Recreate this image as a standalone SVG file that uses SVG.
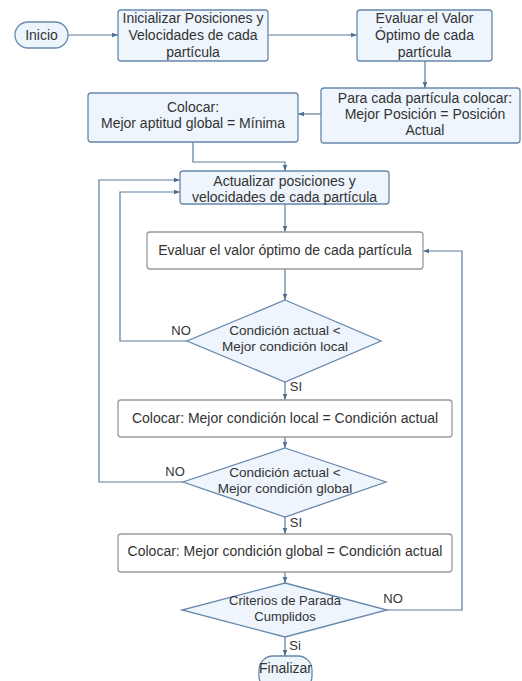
<svg xmlns="http://www.w3.org/2000/svg" width="522" height="681" viewBox="0 0 522 681">
  <defs>
    <marker id="arrow" viewBox="0 0 8 8" refX="8" refY="4" markerWidth="6" markerHeight="6" orient="auto" markerUnits="userSpaceOnUse">
      <path d="M0,1 L8,4 L0,7 Z" fill="#4d6f93"/>
    </marker>
    <style>
      .term { fill: #edf5fc; stroke: #6688ad; stroke-width: 1.3; }
      .proc { fill: #eef5fc; stroke: #6688ad; stroke-width: 1.3; }
      .plain { fill: #ffffff; stroke: #9a9a9a; stroke-width: 1.3; }
      .dec { fill: #eef5fc; stroke: #6688ad; stroke-width: 1.3; }
      .conn { fill: none; stroke: #5d7c9c; stroke-width: 1.2; marker-end: url(#arrow); }
      text { font-family: "Liberation Sans", Arial, sans-serif; font-size: 14px; fill: #333333; text-anchor: middle; }
      .dtext { font-size: 13.5px; }
      .small { font-size: 13px; }
      .lbl { font-size: 13px; }
    </style>
  </defs>

  <!-- connectors -->
  <g id="connectors">
    <path class="conn" d="M68,35 H118"/>
    <path class="conn" d="M268,35 H357"/>
    <path class="conn" d="M425,61 V88"/>
    <path class="conn" d="M321,114 H298"/>
    <path class="conn" d="M193,142 V162 H285 V171"/>
    <path class="conn" d="M285,204 V232"/>
    <path class="conn" d="M285,269 V300"/>
    <path class="conn" d="M187,341 H120 V192 H180"/>
    <path class="conn" d="M285,382 V400"/>
    <path class="conn" d="M285,437 V448"/>
    <path class="conn" d="M183,482 H99 V180 H180"/>
    <path class="conn" d="M285,517 V534"/>
    <path class="conn" d="M285,572 V583"/>
    <path class="conn" d="M387,610 H462 V251 H423"/>
    <path class="conn" d="M285,637 V656"/>
    <text class="lbl" x="181" y="335">NO</text>
    <text class="lbl" x="175" y="476">NO</text>
    <text class="lbl" x="393" y="603">NO</text>
    <text class="lbl" x="296" y="391">SI</text>
    <text class="lbl" x="296" y="527">SI</text>
    <text class="lbl" x="295" y="650">Si</text>
  </g>

  <g id="inicio">
    <rect class="term" x="15" y="22" width="53" height="26" rx="13"/>
    <text x="41.5" y="40">Inicio</text>
  </g>

  <g id="inicializar">
    <rect class="proc" x="118" y="10" width="150" height="51" rx="3"/>
    <text x="193" y="23">Inicializar Posiciones y</text>
    <text x="193" y="40">Velocidades de cada</text>
    <text x="193" y="57">partícula</text>
  </g>

  <g id="evaluar-inicial">
    <rect class="proc" x="357" y="10" width="135" height="51" rx="3"/>
    <text x="424.5" y="23">Evaluar el Valor</text>
    <text x="424.5" y="40">Óptimo de cada</text>
    <text x="424.5" y="57">partícula</text>
  </g>

  <g id="mejor-posicion">
    <rect class="proc" x="321" y="88" width="199" height="55" rx="3"/>
    <text x="425" y="103">Para cada partícula colocar:</text>
    <text x="425" y="119">Mejor Posición = Posición</text>
    <text x="425" y="135">Actual</text>
  </g>

  <g id="aptitud-global">
    <rect class="proc" x="88" y="93" width="210" height="49" rx="3"/>
    <text x="193" y="112">Colocar:</text>
    <text x="193" y="128">Mejor aptitud global = Mínima</text>
  </g>

  <g id="actualizar">
    <rect class="proc" x="180" y="171" width="209" height="33" rx="3"/>
    <text x="284.5" y="186">Actualizar posiciones y</text>
    <text x="284.5" y="202">velocidades de cada partícula</text>
  </g>

  <g id="evaluar">
    <rect class="plain" x="147" y="232" width="276" height="37" rx="3"/>
    <text x="285" y="255">Evaluar el valor óptimo de cada partícula</text>
  </g>

  <g id="cond-local">
    <polygon class="dec" points="285,300 381,341 285,382 187,341"/>
    <text class="dtext" x="285" y="335">Condición actual &lt;</text>
    <text class="dtext" x="285" y="351">Mejor condición local</text>
  </g>

  <g id="set-local">
    <rect class="plain" x="118" y="400" width="334" height="37" rx="3"/>
    <text x="285" y="423">Colocar: Mejor condición local = Condición actual</text>
  </g>

  <g id="cond-global">
    <polygon class="dec" points="285,448 386,482 285,517 183,482"/>
    <text class="dtext" x="285" y="477">Condición actual &lt;</text>
    <text class="dtext" x="285" y="493">Mejor condición global</text>
  </g>

  <g id="set-global">
    <rect class="plain" x="118" y="534" width="334" height="38" rx="3"/>
    <text x="285" y="556">Colocar: Mejor condición global = Condición actual</text>
  </g>

  <g id="parada">
    <polygon class="dec" points="285,583 387,610 285,637 182,610"/>
    <text class="small" x="285" y="605">Criterios de Parada</text>
    <text class="small" x="285" y="621">Cumplidos</text>
  </g>

  <g id="finalizar">
    <rect class="term" x="259" y="656" width="53" height="34" rx="14"/>
    <text x="285.5" y="673">Finalizar</text>
  </g>
</svg>
